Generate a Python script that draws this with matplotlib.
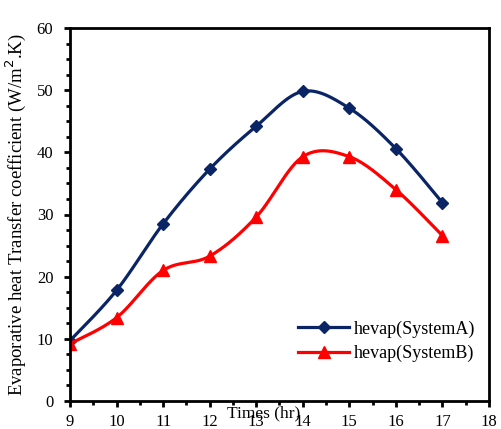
import numpy as np
import matplotlib.pyplot as plt
from matplotlib.ticker import MultipleLocator

hours = [9, 10, 11, 12, 13, 14, 15, 16, 17]
system_a = [9.7, 17.8, 28.5, 37.3, 44.2, 49.8, 47.1, 40.6, 31.9]
system_b = [9.2, 13.4, 21.0, 23.3, 29.6, 39.3, 39.3, 34.0, 26.6]


def smooth(x, y, n=30):
    # Excel-like smoothed line: cubic Bezier with Catmull-Rom control points
    x = np.asarray(x, float)
    y = np.asarray(y, float)
    px = np.concatenate([[x[0]], x, [x[-1]]])
    py = np.concatenate([[y[0]], y, [y[-1]]])
    xs, ys = [], []
    t = np.linspace(0, 1, n)
    for i in range(1, len(px) - 2):
        p0 = np.array([px[i], py[i]])
        p3 = np.array([px[i + 1], py[i + 1]])
        p1 = p0 + (np.array([px[i + 1], py[i + 1]]) - np.array([px[i - 1], py[i - 1]])) / 6
        p2 = p3 - (np.array([px[i + 2], py[i + 2]]) - np.array([px[i], py[i]])) / 6
        b = ((1 - t) ** 3)[:, None] * p0 + (3 * (1 - t) ** 2 * t)[:, None] * p1 \
            + (3 * (1 - t) * t ** 2)[:, None] * p2 + (t ** 3)[:, None] * p3
        xs.extend(b[:, 0])
        ys.extend(b[:, 1])
    return xs, ys


plt.rcParams['font.family'] = 'Liberation Serif'
fig = plt.figure(figsize=(5.01, 4.29), dpi=100)
ax = fig.add_axes([70 / 501, 28 / 429, 419 / 501, 373 / 429])

navy = '#0a2466'
red = '#ff0000'
sx, sy = smooth(hours, system_a)
ax.plot(sx, sy, color=navy, lw=2.3)
ax.plot(hours, system_a, 'D', color=navy, ms=6)
ax.plot([], [], '-D', color=navy, lw=2.3, ms=6, label='hevap(SystemA)')
sx, sy = smooth(hours, system_b)
ax.plot(sx, sy, color=red, lw=2.3)
ax.plot(hours, system_b, '^', color=red, ms=8)
ax.plot([], [], '-^', color=red, lw=2.3, ms=8, label='hevap(SystemB)')

ax.set_xlim(9, 18)
ax.set_ylim(0, 60)
ax.xaxis.set_major_locator(MultipleLocator(1))
ax.xaxis.set_minor_locator(MultipleLocator(0.5))
ax.yaxis.set_major_locator(MultipleLocator(10))
ax.yaxis.set_minor_locator(MultipleLocator(2.5))
ax.tick_params(which='both', direction='out', width=2, labelsize=12)
ax.tick_params(which='major', length=4)
ax.tick_params(which='minor', length=3)
ax.tick_params(axis='x', pad=5)
ax.tick_params(axis='y', pad=8)
for s in ax.spines.values():
    s.set_linewidth(2)

ax.set_ylabel('Evaporative heat Transfer coefficient (W/m$^2$.K)', fontsize=13.5)
ax.yaxis.set_label_coords(-0.10, 0.5)
fig.text(264 / 501, 1 - 413 / 429, 'Times (hr)', fontsize=12.5, ha='center', va='center')
ax.legend(loc='lower right', bbox_to_anchor=(1.007, 0.06), frameon=False,
          fontsize=13, handlelength=2.8, labelspacing=0.4, handletextpad=0.3)

fig.savefig('out.png', dpi=100)
